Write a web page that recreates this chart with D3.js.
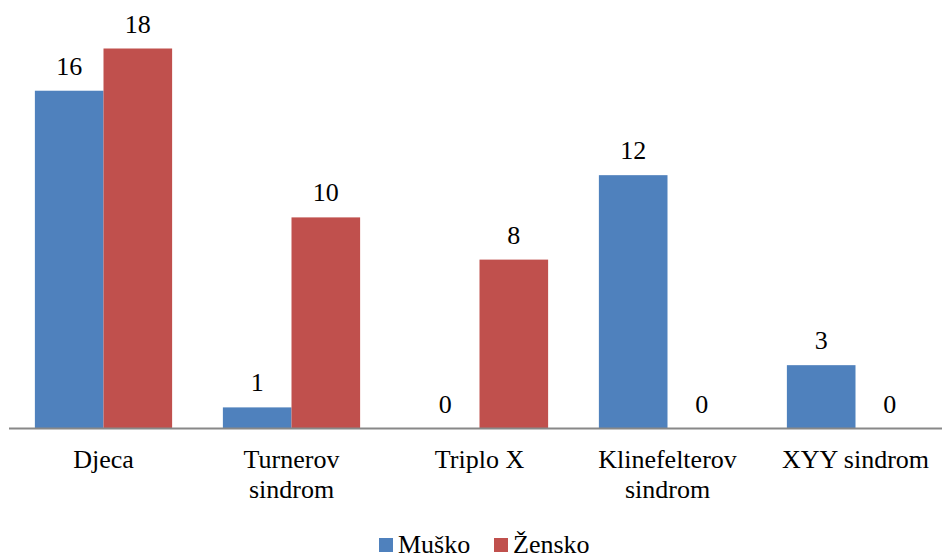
<!DOCTYPE html>
<html>
<head>
<meta charset="utf-8">
<script src="https://cdn.jsdelivr.net/npm/d3@7"></script>
<style>
  body { margin: 0; background: #fff; }
  svg { display: block; }
  svg text { font-family: "Liberation Serif", "Times New Roman", serif; }
</style>
</head>
<body>
<div id="chart"></div>
<script>
var categories = [["Djeca"], ["Turnerov", "sindrom"], ["Triplo X"], ["Klinefelterov", "sindrom"], ["XYY sindrom"]];
var seriesNames = ["Muško", "Žensko"];
var musko = [16, 1, 0, 12, 3];
var zensko = [18, 10, 8, 0, 0];
var colors = ["#4F81BD", "#C0504D"];

var width = 942, height = 558;

var svg = d3.select("#chart").append("svg")
            .attr("width", width)
            .attr("height", height);

var keys = categories.map(function (c) { return c.join(" "); });

var x = d3.scaleBand()
          .domain(keys)
          .range([9.5, 949.5])
          .paddingInner(0.27)
          .paddingOuter(0.135);

var xs = d3.scaleBand()
           .domain(seriesNames)
           .range([0, x.bandwidth()]);

var y = d3.scaleLinear()
          .domain([0, 18])
          .range([428.5, 48.5]);

var series = [musko, zensko];

var groups = svg.selectAll("g.grp")
                .data(keys)
                .enter().append("g")
                .attr("class", "grp")
                .attr("transform", function (d) { return "translate(" + x(d) + ",0)"; });

seriesNames.forEach(function (name, si) {
  groups.append("rect")
        .attr("x", xs(name))
        .attr("y", function (d, i) { return y(series[si][i]); })
        .attr("width", xs.bandwidth())
        .attr("height", function (d, i) { return y(0) - y(series[si][i]); })
        .attr("fill", colors[si]);

  groups.append("text")
        .attr("x", xs(name) + xs.bandwidth() / 2)
        .attr("y", function (d, i) { return y(series[si][i]) - 16; })
        .attr("text-anchor", "middle")
        .attr("font-size", "26px")
        .attr("fill", "#000")
        .text(function (d, i) { return series[si][i]; });
});

// x axis
var xAxis = d3.axisBottom(x).tickSize(0).tickFormat("");
var axisG = svg.append("g")
               .attr("transform", "translate(0," + y(0) + ")")
               .call(xAxis);
axisG.select(".domain")
     .attr("d", "M9,0H949")
     .attr("stroke", "#888")
     .attr("stroke-width", 2);

// category labels
categories.forEach(function (lines, i) {
  var t = svg.append("text")
             .attr("text-anchor", "middle")
             .attr("font-size", "26px")
             .attr("fill", "#000");
  lines.forEach(function (line, li) {
    t.append("tspan")
     .attr("x", x(keys[i]) + x.bandwidth() / 2)
     .attr("y", 468 + li * 30)
     .text(line);
  });
});

// legend
var legendX = [379, 494];
var legend = svg.selectAll("g.leg")
                .data(seriesNames)
                .enter().append("g")
                .attr("class", "leg")
                .attr("transform", function (d, i) { return "translate(" + legendX[i] + ",538)"; });

legend.append("rect")
      .attr("width", 14)
      .attr("height", 14)
      .attr("fill", function (d, i) { return colors[i]; });

legend.append("text")
      .attr("x", 19)
      .attr("y", 15)
      .attr("font-size", "26px")
      .attr("fill", "#000")
      .text(function (d) { return d; });
</script>
</body>
</html>
